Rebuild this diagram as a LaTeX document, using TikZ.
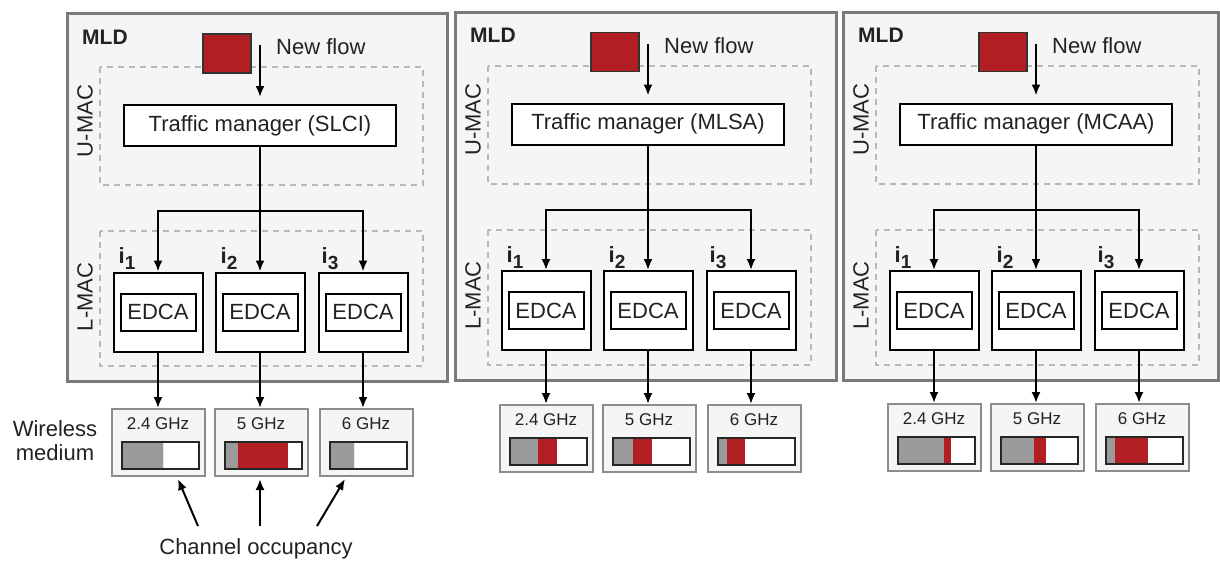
\documentclass[tikz,border=0pt]{standalone}
\usepackage{fontspec}
\setmainfont{Liberation Sans}
\usetikzlibrary{arrows.meta,calc}
\definecolor{flowred}{HTML}{B11F24}
\definecolor{panelbg}{HTML}{F4F5F4}
\definecolor{panelline}{HTML}{7A7A7A}
\definecolor{dashc}{HTML}{B8B8B8}
\definecolor{freqline}{HTML}{8C8C8C}
\definecolor{bargrey}{HTML}{9A9A9A}
\definecolor{textc}{HTML}{222222}
\tikzset{
  txt/.style={font=\fontsize{22}{25}\selectfont, text=textc, inner sep=0pt},
  boldtxt/.style={font=\fontsize{21}{25}\selectfont\bfseries, text=textc, inner sep=0pt},
  flab/.style={font=\fontsize{17}{20}\selectfont, text=textc, inner sep=0pt},
  arr/.style={line width=2pt, draw=black, -{Latex[length=11pt,width=9pt]}},
  plain/.style={line width=2pt, draw=black},
  outerbox/.style={fill=panelbg, draw=panelline, line width=3pt},
  dashbox/.style={draw=dashc, line width=2pt, dash pattern=on 6pt off 5pt},
  flowsq/.style={fill=flowred, draw=black!80, line width=1.5pt, minimum width=48pt, minimum height=39pt, inner sep=0pt},
  tmbox/.style={txt, fill=white, draw=black, line width=2pt, minimum width=272pt, minimum height=41pt},
  edcabox/.style={fill=white, draw=black, line width=2pt, minimum width=89pt, minimum height=79pt, inner sep=0pt},
  edcain/.style={txt, fill=white, draw=black, line width=2pt, minimum width=75pt, minimum height=37pt},
  freqbox/.style={fill=panelbg, draw=freqline, line width=2pt, minimum width=93pt, minimum height=67pt, inner sep=0pt},
  barborder/.style={draw=black!85, line width=2pt},
}
\newcommand\chanbar[3]{%
  \coordinate (#1-bl) at ($(#1.south west)+(11,-8)$);
  \coordinate (#1-br) at ($(#1.south east)+(-7,-8)$);
  \coordinate (#1-g) at ($(#1-bl)!#2!(#1-br)$);
  \coordinate (#1-r) at ($(#1-bl)!#3!(#1-br)$);
  \fill[white] (#1-bl) rectangle ([yshift=27pt]#1-br);
  \fill[bargrey] (#1-bl) rectangle ([yshift=27pt]#1-g);
  \fill[flowred] (#1-g) rectangle ([yshift=27pt]#1-r);
  \draw[barborder] (#1-bl) rectangle ([yshift=27pt]#1-br);
}
\newcommand\ilabel[1]{{\bfseries i\raisebox{-6pt}{\fontsize{19}{19}\selectfont #1}}}
\newcommand\mldpanel[9]{%
  \node[boldtxt, anchor=west] (#1-mld) at (82,37) {MLD};
  \draw[dashbox] (100,67) rectangle (423,185);
  \draw[dashbox] (100,231) rectangle (423,366);
  \node[txt, rotate=90] (#1-umac) at (85,121) {U-MAC};
  \node[txt, rotate=90] (#1-lmac) at (85,297) {L-MAC};
  \node[flowsq] (#1-flow) at (227,53.5) {};
  \node[txt, anchor=west] (#1-nf) at (276,47) {New flow};
  \coordinate (#1-fs) at (260,45);
  \coordinate (#1-fe) at (260,97);
  \draw[arr] (#1-fs) -- (#1-fe);
  \node[tmbox] (#1-tm) at (260,125.5) {Traffic manager (#2)};
  \node[edcabox] (#1-e1) at (158,312) {};
  \node[edcabox] (#1-e2) at (260,312) {};
  \node[edcabox] (#1-e3) at (363,312) {};
  \node[edcain] (#1-d1) at (#1-e1) {EDCA};
  \node[edcain] (#1-d2) at (#1-e2) {EDCA};
  \node[edcain] (#1-d3) at (#1-e3) {EDCA};
  \node[txt] (#1-i1) at (127,259) {\ilabel{1}};
  \node[txt] (#1-i2) at (229,259) {\ilabel{2}};
  \node[txt] (#1-i3) at (330,259) {\ilabel{3}};
  \coordinate (#1-bus) at (260,211);
  \draw[arr] (#1-tm.south) -- (#1-e2.north);
  \draw[arr] (#1-bus) -| (#1-e1.north);
  \draw[arr] (#1-bus) -| (#1-e3.north);
  \node[freqbox] (#1-f1) at (158,{442.5+#9}) {};
  \node[freqbox] (#1-f2) at (261,{442.5+#9}) {};
  \node[freqbox] (#1-f3) at (366,{442.5+#9}) {};
  \node[flab] (#1-t1) at ([yshift=-16pt]#1-f1.north) {2.4 GHz};
  \node[flab] (#1-t2) at ([yshift=-16pt]#1-f2.north) {5 GHz};
  \node[flab] (#1-t3) at ([yshift=-16pt]#1-f3.north) {6 GHz};
  \draw[arr] (#1-e1.south) -- (#1-e1.south |- #1-f1.north);
  \draw[arr] (#1-e2.south) -- (#1-e2.south |- #1-f2.north);
  \draw[arr] (#1-e3.south) -- (#1-e3.south |- #1-f3.north);
  \chanbar{#1-f1}{#3}{#4}
  \chanbar{#1-f2}{#5}{#6}
  \chanbar{#1-f3}{#7}{#8}
}
\begin{document}
\begin{tikzpicture}[x=1pt,y=-1pt]
  \useasboundingbox (0,0) rectangle (1220,560);
  \fill[white] (0,0) rectangle (1220,560);
  % outer MLD panels
  \draw[outerbox] (67,13) rectangle (447,381);
  \draw[outerbox] (455,12) rectangle (836,380);
  \draw[outerbox] (843,12) rectangle (1218,380);
  % panel 1 (SLCI)
  \mldpanel{a}{SLCI}{0.54}{0.54}{0.18}{0.83}{0.32}{0.32}{0}
  % panel 2 (MLSA)
  \begin{scope}[shift={(388,-1.5)}]
    \mldpanel{b}{MLSA}{0.37}{0.62}{0.27}{0.51}{0.12}{0.36}{-2.5}
  \end{scope}
  % panel 3 (MCAA)
  \begin{scope}[shift={(776,-1.5)}]
    \mldpanel{c}{MCAA}{0.61}{0.69}{0.44}{0.59}{0.12}{0.55}{-3.5}
  \end{scope}
  % wireless medium label
  \node[txt, align=center, font=\fontsize{22}{24}\selectfont] (wm) at (55,441) {Wireless\\medium};
  % channel occupancy
  \node[txt] (occ) at (256,549) {Channel occupancy};
  \coordinate (o1) at (198,526);
  \coordinate (o2) at (260,526);
  \coordinate (o3) at (317,526);
  \draw[arr] (o1) -- ([xshift=20pt,yshift=-2pt]a-f1.south);
  \draw[arr] (o2) -- ([xshift=-1pt,yshift=-2pt]a-f2.south);
  \draw[arr] (o3) -- ([xshift=-21pt,yshift=-2pt]a-f3.south);
\end{tikzpicture}
\end{document}
